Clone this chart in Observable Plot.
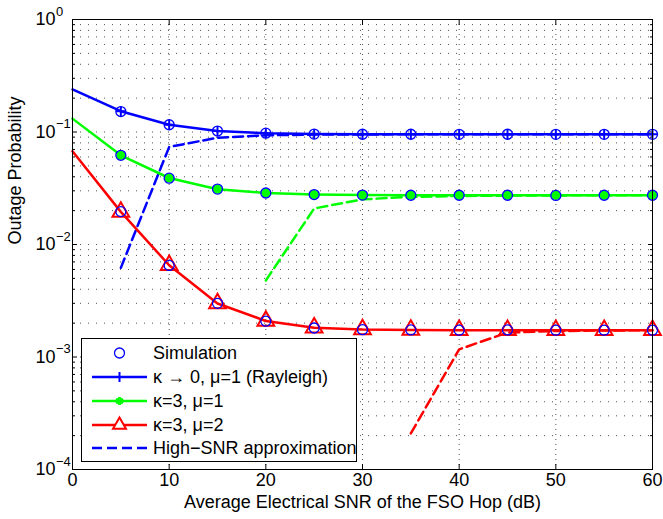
<!DOCTYPE html>
<html><head><meta charset="utf-8">
<script src="https://cdn.jsdelivr.net/npm/d3@7"></script>
<script src="https://cdn.jsdelivr.net/npm/@observablehq/plot@0.6"></script>
<style>body{margin:0;background:#fff} svg{display:block}</style>
</head><body><div id="chart"></div>
<script>
// ---- data ----
const snrTheory = [0, 5, 10, 15, 20, 25, 30, 35, 40, 45, 50, 55, 60];
const rayleighTheory = [0.239, 0.153, 0.116, 0.102, 0.0975, 0.096, 0.0955, 0.0955, 0.0954, 0.0954, 0.0954, 0.0954, 0.0954];
const k3m1Theory = [0.1315, 0.0621, 0.039, 0.031, 0.0287, 0.0278, 0.0275, 0.0274, 0.0274, 0.0274, 0.0274, 0.0274, 0.0274];
const k3m2Theory = [0.0674, 0.0195, 0.00654, 0.00299, 0.00209, 0.00182, 0.00176, 0.00174, 0.00173, 0.00173, 0.00173, 0.00173, 0.00173];

const snrSim = [5, 10, 15, 20, 25, 30, 35, 40, 45, 50, 55, 60];
const rayleighSim = [0.152, 0.116, 0.102, 0.0976, 0.0958, 0.0955, 0.0955, 0.0953, 0.0955, 0.0954, 0.0954, 0.0954];
const k3m1Sim = [0.0621, 0.0389, 0.0311, 0.0287, 0.0278, 0.0275, 0.0274, 0.0274, 0.0274, 0.0273, 0.0274, 0.0274];
const k3m2Sim = [0.0196, 0.00652, 0.0030, 0.00208, 0.00181, 0.00175, 0.00174, 0.00173, 0.00174, 0.00173, 0.00173, 0.00173];

const snrApproxRayleigh = [5, 10, 15, 20, 25, 30, 35, 40, 45, 50, 55, 60];
const approxRayleigh = [0.0062, 0.0736, 0.089, 0.0935, 0.0948, 0.0952, 0.0953, 0.0954, 0.0954, 0.0954, 0.0954, 0.0954];
const snrApproxK3M1 = [20, 25, 30, 35, 40, 45, 50, 55, 60];
const approxK3M1 = [0.00479, 0.0209, 0.0252, 0.0265, 0.027, 0.0272, 0.0273, 0.0274, 0.0274];
const snrApproxK3M2 = [35, 40, 45, 50, 55, 60];
const approxK3M2 = [0.000209, 0.00117, 0.00165, 0.0017, 0.00172, 0.00173];

const xTicks = [0, 10, 20, 30, 40, 50, 60];
const xGrid = [10, 20, 30, 40, 50];
const yTicks = [1e-4, 1e-3, 1e-2, 1e-1, 1];
const yTickExponents = ["−4", "−3", "−2", "−1", "0"];
const yMinor = [];
for (const e of [-4, -3, -2, -1]) for (let m = 2; m <= 9; m++) yMinor.push(m * Math.pow(10, e));
const yGrid = yMinor.concat([1e-3, 1e-2, 1e-1]);

const xLabel = "Average Electrical SNR of the FSO Hop (dB)";
const yLabel = "Outage Probability";
const legendLabels = ["Simulation", "κ → 0, μ=1 (Rayleigh)", "κ=3, μ=1", "κ=3, μ=2", "High−SNR approximation"];

const BLUE = "#0000ff", GREEN = "#00ff00", RED = "#ff0000";
const zip = (xs, ys) => xs.map((x, i) => ({x, y: ys[i]}));
const FONT = "'Liberation Sans', Arial, Helvetica, sans-serif";

const plot = Plot.plot({
  width: 663, height: 519,
  marginLeft: 72, marginRight: 11, marginTop: 19, marginBottom: 50,
  style: {fontFamily: FONT, fontSize: "18px", background: "#fff", color: "#000"},
  x: {domain: [0, 60]},
  y: {type: "log", domain: [1e-4, 1]},
  marks: [
    // dotted grid
    Plot.ruleY(yGrid, {stroke: "#333", strokeOpacity: 0.85, strokeWidth: 1, strokeDasharray: "1,7"}),
    Plot.ruleX(xGrid, {stroke: "#333", strokeOpacity: 0.85, strokeWidth: 1, strokeDasharray: "1,4"}),
    // inward ticks
    Plot.axisX({ticks: xTicks, anchor: "bottom", tickSize: 5, dy: -5, fill: "none", label: null}),
    Plot.axisX({ticks: xTicks, anchor: "top", tickSize: 5, dy: 5, fill: "none", label: null}),
    Plot.axisY({ticks: yTicks, anchor: "left", tickSize: 5, dx: 5, fill: "none", label: null}),
    Plot.axisY({ticks: yMinor, anchor: "left", tickSize: 3, dx: 3, fill: "none", label: null}),
    Plot.axisY({ticks: yTicks, anchor: "right", tickSize: 5, dx: -5, fill: "none", label: null}),
    Plot.axisY({ticks: yMinor, anchor: "right", tickSize: 3, dx: -3, fill: "none", label: null}),
    // approximation (dashed)
    Plot.line(zip(snrApproxRayleigh, approxRayleigh), {x: "x", y: "y", stroke: BLUE, strokeWidth: 2.5, strokeDasharray: "10,5"}),
    Plot.line(zip(snrApproxK3M1, approxK3M1), {x: "x", y: "y", stroke: GREEN, strokeWidth: 2.5, strokeDasharray: "10,5"}),
    Plot.line(zip(snrApproxK3M2, approxK3M2), {x: "x", y: "y", stroke: RED, strokeWidth: 2.5, strokeDasharray: "10,5"}),
    // theory (solid)
    Plot.line(zip(snrTheory, rayleighTheory), {x: "x", y: "y", stroke: BLUE, strokeWidth: 2.5}),
    Plot.line(zip(snrTheory, k3m1Theory), {x: "x", y: "y", stroke: GREEN, strokeWidth: 2.5}),
    Plot.line(zip(snrTheory, k3m2Theory), {x: "x", y: "y", stroke: RED, strokeWidth: 2.5}),
    // theory markers
    Plot.dot(zip(snrTheory.slice(1), rayleighTheory.slice(1)), {x: "x", y: "y", symbol: "plus", r: 3.3, stroke: BLUE, strokeWidth: 2}),
    Plot.dot(zip(snrTheory.slice(1), k3m1Theory.slice(1)), {x: "x", y: "y", symbol: "circle", r: 4.6, fill: GREEN, stroke: "none"}),
    Plot.dot(zip(snrTheory.slice(1), k3m2Theory.slice(1)), {x: "x", y: "y", symbol: "triangle", r: 6.2, stroke: RED, strokeWidth: 2, fill: "none"}),
    // simulation
    Plot.dot(zip(snrSim, rayleighSim), {x: "x", y: "y", r: 5, stroke: BLUE, strokeWidth: 1.3, fill: "none"}),
    Plot.dot(zip(snrSim, k3m1Sim), {x: "x", y: "y", r: 5, stroke: BLUE, strokeWidth: 1.3, fill: "none"}),
    Plot.dot(zip(snrSim, k3m2Sim), {x: "x", y: "y", r: 5, stroke: BLUE, strokeWidth: 1.3, fill: "none"}),
    // frame
    Plot.frame({stroke: "#000", strokeWidth: 1}),
    // tick labels
    Plot.text(xTicks, {x: d => d, frameAnchor: "bottom", dy: 16, text: d => String(d), fontSize: 18}),
    Plot.text(yTicks, {y: d => d, frameAnchor: "left", dx: -37, textAnchor: "start", text: () => "10", fontSize: 18}),
    Plot.text(yTicks, {y: d => d, frameAnchor: "left", dx: -16.5, dy: -8, textAnchor: "start", text: (d, i) => yTickExponents[i], fontSize: 13}),
    // axis labels
    Plot.text([xLabel], {frameAnchor: "bottom", dy: 38, text: d => d, fontSize: 18}),
    Plot.text([yLabel], {frameAnchor: "left", dx: -57, rotate: -90, text: d => d, fontSize: 18})
  ]
});
document.getElementById("chart").appendChild(plot);

// ---- legend (drawn on top, inside the plot area) ----
const svg = d3.select(plot);
const lg = svg.append("g").attr("font-family", FONT).attr("font-size", 18).attr("text-anchor", "start");
const box = {x: 81, y: 338, w: 275, h: 123};
lg.append("rect").attr("x", box.x + 0.5).attr("y", box.y + 0.5).attr("width", box.w).attr("height", box.h)
  .attr("fill", "#fff").attr("stroke", "#000").attr("stroke-width", 1);
const rowY = [353, 377, 401, 425, 448];
const lx0 = 92, lx1 = 147, mx = 119.5, tx = 153;
const sym = (type, r) => d3.symbol(type, Math.PI * r * r)();
legendLabels.forEach((lab, i) => {
  const y = rowY[i];
  const g = lg.append("g");
  if (i === 0) {
    g.append("circle").attr("cx", mx).attr("cy", y).attr("r", 5).attr("fill", "none").attr("stroke", BLUE).attr("stroke-width", 1.3);
  } else if (i === 1) {
    g.append("line").attr("x1", lx0).attr("x2", lx1).attr("y1", y).attr("y2", y).attr("stroke", BLUE).attr("stroke-width", 2.5);
    g.append("path").attr("d", sym(d3.symbolPlus, 3.3)).attr("transform", `translate(${mx},${y})`).attr("stroke", BLUE).attr("stroke-width", 2).attr("fill", "none");
  } else if (i === 2) {
    g.append("line").attr("x1", lx0).attr("x2", lx1).attr("y1", y).attr("y2", y).attr("stroke", GREEN).attr("stroke-width", 2.5);
    g.append("path").attr("d", sym(d3.symbolAsterisk, 3.8)).attr("transform", `translate(${mx},${y})`).attr("stroke", GREEN).attr("stroke-width", 3).attr("fill", "none");
  } else if (i === 3) {
    g.append("line").attr("x1", lx0).attr("x2", lx1).attr("y1", y).attr("y2", y).attr("stroke", RED).attr("stroke-width", 2.5);
    g.append("path").attr("d", sym(d3.symbolTriangle2, 6.2)).attr("transform", `translate(${mx},${y})`).attr("stroke", RED).attr("stroke-width", 2).attr("fill", "#fff");
  } else {
    g.append("line").attr("x1", lx0).attr("x2", lx1).attr("y1", y).attr("y2", y).attr("stroke", BLUE).attr("stroke-width", 2.5).attr("stroke-dasharray", "10,5");
  }
  g.append("text").attr("x", tx).attr("y", y).attr("dy", "0.35em").attr("fill", "#000").text(lab);
});
</script>
</body></html>
